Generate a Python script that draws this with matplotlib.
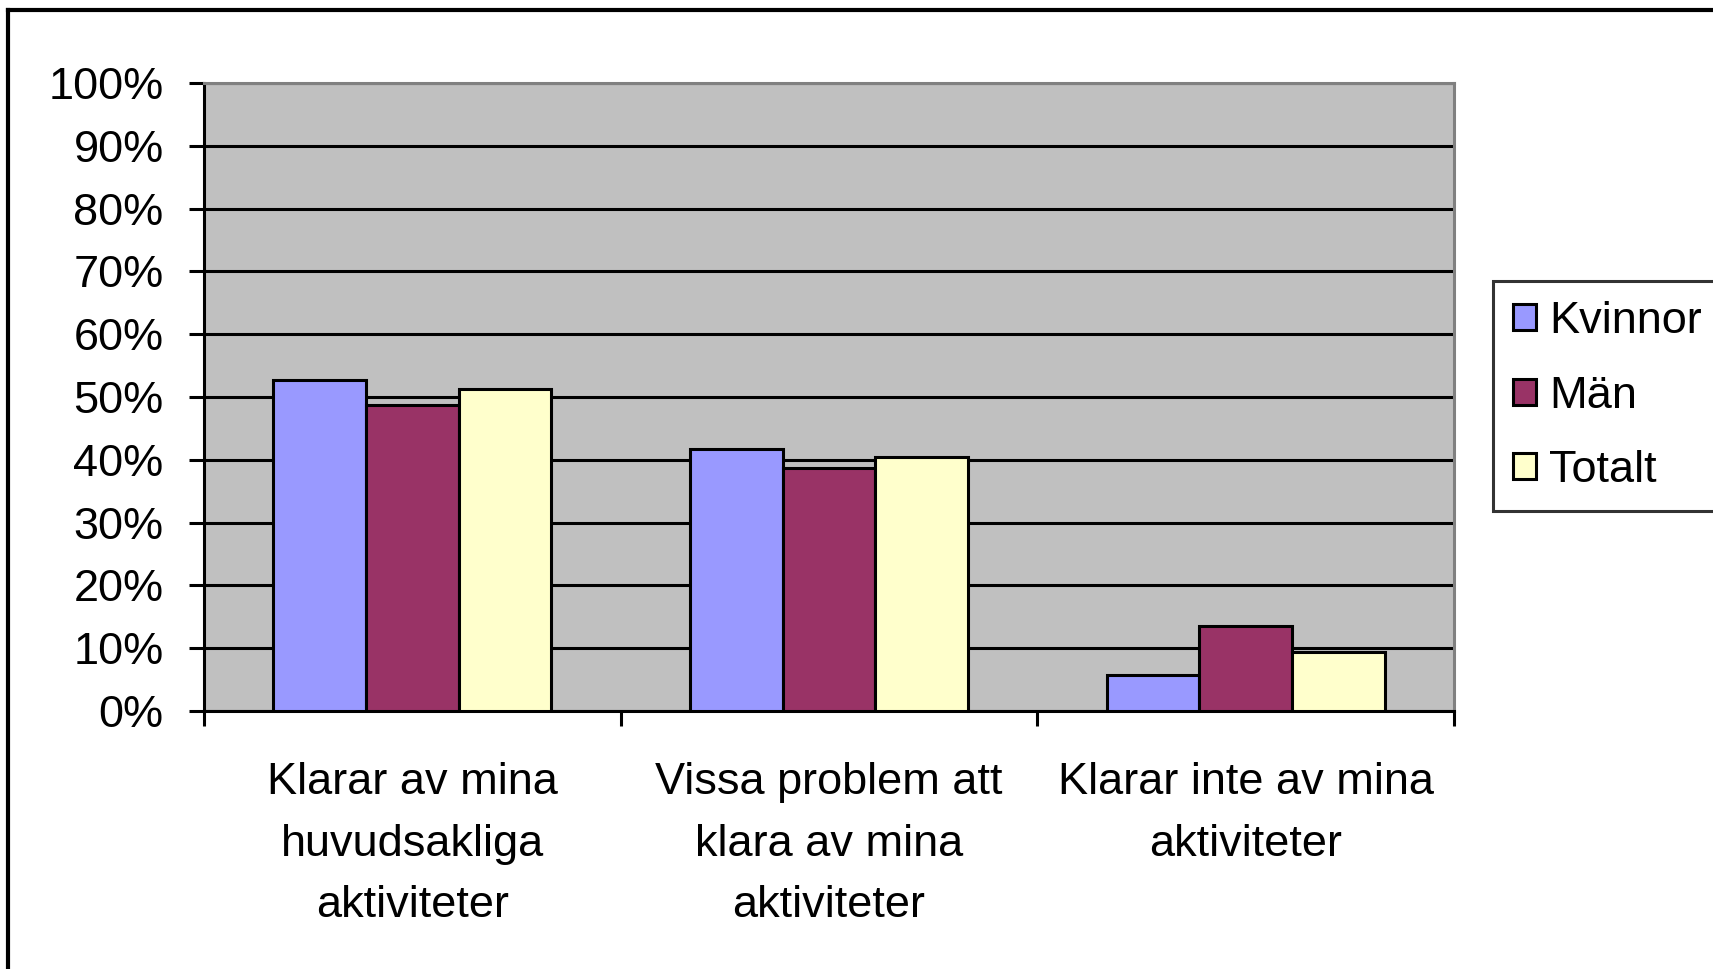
import matplotlib.pyplot as plt
from matplotlib.lines import Line2D
import numpy as np

plt.rcParams['font.family'] = ['Liberation Sans', 'DejaVu Sans']

categories = ['Klarar av mina\nhuvudsakliga\naktiviteter',
              'Vissa problem att\nklara av mina\naktiviteter',
              'Klarar inte av mina\naktiviteter']
series = ['Kvinnor', 'Män', 'Totalt']
kvinnor = [52.7, 41.7, 5.8]
man = [48.8, 38.7, 13.6]
totalt = [51.2, 40.5, 9.4]
colors = ['#9999FF', '#993366', '#FFFFCC']
yticks = [0, 10, 20, 30, 40, 50, 60, 70, 80, 90, 100]

fs = 32.5
lw = 2.2

fig = plt.figure(figsize=(17.13, 9.69), dpi=100)
ax = fig.add_axes([0.1191, 0.2663, 0.8488 - 0.1191, 0.9143 - 0.2663])
ax.set_facecolor('#C0C0C0')

x = np.arange(len(categories))
w = 1 / 4.5
for i, (vals, name) in enumerate(zip([kvinnor, man, totalt], series)):
    ax.bar(x + (i - 1) * w, vals, w, color=colors[i], edgecolor='black',
           linewidth=lw, label=name, zorder=3)

ax.set_xlim(-0.5, 2.5)
ax.set_ylim(0, 100)
ax.set_yticks(yticks)
ax.set_yticklabels(['{}%'.format(v) for v in yticks], fontsize=fs)
ax.yaxis.grid(True, color='black', linewidth=lw, zorder=1)
ax.set_axisbelow(True)
ax.tick_params(axis='y', length=11, width=lw, pad=18)

ax.set_xticks([-0.5, 0.5, 1.5, 2.5])
ax.set_xticklabels([])
ax.tick_params(axis='x', which='major', length=11, width=lw, direction='out')
ax.set_xticks(x, minor=True)
ax.set_xticklabels(categories, minor=True, fontsize=fs, linespacing=1.63)
ax.tick_params(axis='x', which='minor', length=0, pad=37)

for s in ['left', 'bottom']:
    ax.spines[s].set_linewidth(lw)
    ax.spines[s].set_color('black')
for s in ['top', 'right']:
    ax.spines[s].set_linewidth(lw)
    ax.spines[s].set_color('#808080')

leg = fig.legend(loc='upper left', bbox_to_anchor=(0.8715, 0.71),
                 fontsize=fs, frameon=True, fancybox=False, shadow=False,
                 handlelength=0.5, handleheight=0.5, handletextpad=0.3,
                 labelspacing=0.74, borderpad=0.45, borderaxespad=0)
leg.get_frame().set_edgecolor('black')
leg.get_frame().set_linewidth(lw)

# outer chart frame (cut off at right and bottom)
fig.add_artist(Line2D([8 / 1713, 8 / 1713], [0, 1 - 10 / 969], color='black', linewidth=3))
fig.add_artist(Line2D([8 / 1713, 1], [1 - 10 / 969, 1 - 10 / 969], color='black', linewidth=3))

fig.savefig('out.png', dpi=100)
